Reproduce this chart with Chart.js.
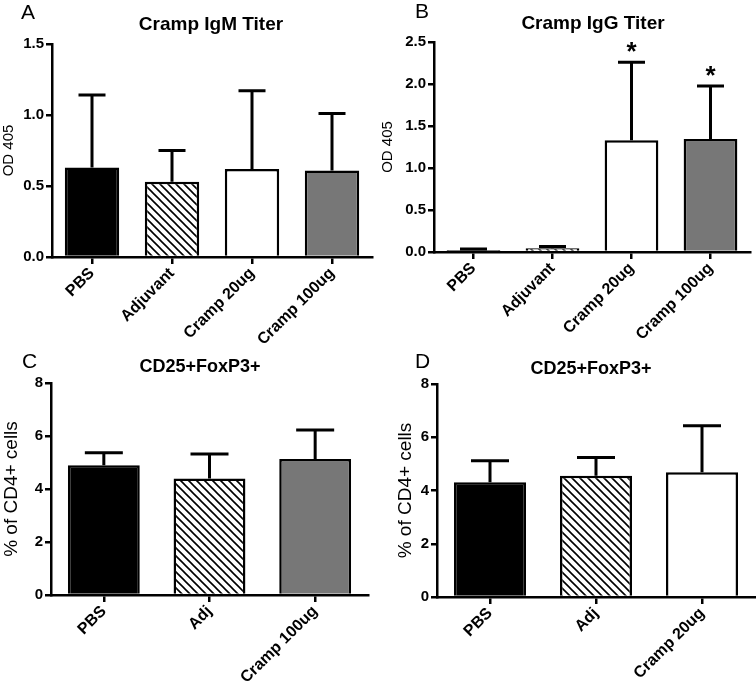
<!DOCTYPE html>
<html>
<head>
<meta charset="utf-8">
<script src="https://cdn.jsdelivr.net/npm/chart.js@4/dist/chart.umd.min.js"></script>
<style>
  html, body { margin: 0; padding: 0; background: #fff; }
  #wrap { position: relative; width: 756px; height: 683px; overflow: hidden; }
  canvas { position: absolute; }
</style>
</head>
<body>
<div id="wrap">
  <canvas id="panelA" width="378" height="352" style="left:0;top:0;width:378px;height:352px"></canvas>
  <canvas id="panelB" width="378" height="352" style="left:378px;top:0;width:378px;height:352px"></canvas>
  <canvas id="panelC" width="378" height="343" style="left:0;top:340px;width:378px;height:343px"></canvas>
  <canvas id="panelD" width="378" height="343" style="left:378px;top:340px;width:378px;height:343px"></canvas>
</div>
<script>
// data (mean + upper error)
const titerGroups = ['PBS', 'Adjuvant', 'Cramp 20ug', 'Cramp 100ug'];
const igmMean = [0.63, 0.53, 0.62, 0.61];
const igmErr = [0.51, 0.22, 0.55, 0.40];
const igmTicks = [0, 0.5, 1.0, 1.5];

const iggMean = [0.025, 0.045, 1.33, 1.345];
const iggErr = [0.01, 0.02, 0.93, 0.63];
const iggSig = ['', '', '*', '*'];
const iggTicks = [0, 0.5, 1.0, 1.5, 2.0, 2.5];

const tregCGroups = ['PBS', 'Adj', 'Cramp 100ug'];
const tregCMean = [4.9, 4.4, 5.13];
const tregCErr = [0.47, 0.92, 1.1];

const tregDGroups = ['PBS', 'Adj', 'Cramp 20ug'];
const tregDMean = [4.31, 4.55, 4.69];
const tregDErr = [0.81, 0.69, 1.74];
const tregTicks = [0, 2, 4, 6, 8];

const FONT = "'Liberation Sans', Arial, sans-serif";

// diagonal hatch for the adjuvant bars
function hatch() {
  const c = document.createElement('canvas');
  c.width = c.height = 8;
  const g = c.getContext('2d');
  g.fillStyle = '#fff';
  g.fillRect(0, 0, 8, 8);
  g.strokeStyle = '#000';
  g.lineWidth = 1.6;
  g.beginPath();
  g.moveTo(-1, -1); g.lineTo(9, 9);
  g.moveTo(-1, 7); g.lineTo(1, 9);
  g.moveTo(7, -1); g.lineTo(9, 1);
  g.stroke();
  return c.getContext('2d').createPattern(c, 'repeat');
}
const hatchFill = hatch();

function fillFor(name) {
  if (name === 'PBS') return '#000';
  if (name === 'Adjuvant' || name === 'Adj') return hatchFill;
  if (name === 'Cramp 20ug') return '#fff';
  return '#777';
}

const errorBars = {
  id: 'errorBars',
  afterDatasetsDraw(chart, args, opts) {
    const ctx = chart.ctx;
    const y = chart.scales.y;
    const meta = chart.getDatasetMeta(0);
    ctx.save();
    ctx.strokeStyle = '#000';
    ctx.lineWidth = 3;
    meta.data.forEach((bar, i) => {
      const top = y.getPixelForValue(opts.mean[i] + opts.err[i]);
      ctx.beginPath();
      ctx.moveTo(bar.x, bar.y);
      ctx.lineTo(bar.x, top);
      ctx.moveTo(bar.x - opts.cap, top);
      ctx.lineTo(bar.x + opts.cap, top);
      ctx.stroke();
      if (opts.sig && opts.sig[i]) {
        ctx.fillStyle = '#000';
        ctx.font = 'bold 26px ' + FONT;
        ctx.textAlign = 'center';
        ctx.textBaseline = 'alphabetic';
        ctx.fillText(opts.sig[i], bar.x, top - 2);
      }
    });
    ctx.restore();
  }
};

const panelText = {
  id: 'panelText',
  afterDraw(chart, args, opts) {
    const ctx = chart.ctx;
    ctx.save();
    ctx.fillStyle = '#000';
    ctx.textBaseline = 'alphabetic';
    ctx.textAlign = 'left';
    ctx.font = '21px ' + FONT;
    ctx.fillText(opts.letter, opts.lx, opts.ly);
    ctx.textAlign = 'center';
    ctx.font = 'bold ' + opts.tSize + 'px ' + FONT;
    ctx.fillText(opts.title, opts.tx, opts.ty);
    ctx.restore();
  }
};

function makePanel(id, p) {
  const cv = document.getElementById(id);
  const W = cv.width, H = cv.height;
  new Chart(cv, {
    type: 'bar',
    data: {
      labels: p.labels,
      datasets: [{
        data: p.mean,
        backgroundColor: p.labels.map(fillFor),
        borderColor: '#000',
        borderWidth: 2.5,
        barPercentage: 0.68,
        categoryPercentage: 1
      }]
    },
    options: {
      responsive: false,
      animation: false,
      layout: { padding: { top: p.plot[1], right: W - p.plot[2], left: 0, bottom: 0 } },
      plugins: {
        legend: { display: false },
        tooltip: { enabled: false },
        errorBars: { mean: p.mean, err: p.err, sig: p.sig, cap: p.cap },
        panelText: p.text
      },
      scales: {
        x: {
          grid: { offset: false, drawOnChartArea: false, color: '#000', lineWidth: 2.5, tickLength: 7 },
          border: { color: '#000', width: 2.5 },
          ticks: { color: '#000', font: { family: FONT, weight: 'bold', size: 16 }, minRotation: 45, maxRotation: 45, autoSkip: false, padding: 0 },
          afterFit: s => { s.height = H - p.plot[3]; }
        },
        y: {
          min: p.ticks[0],
          max: p.ticks[p.ticks.length - 1],
          afterBuildTicks: s => { s.ticks = p.ticks.map(v => ({ value: v })); },
          grid: { drawOnChartArea: false, color: '#000', lineWidth: 2.5, tickLength: 6 },
          border: { color: '#000', width: 2.5 },
          ticks: { color: '#000', font: { family: FONT, weight: 'bold', size: 15 }, padding: 2, callback: p.fmt },
          title: { display: true, text: p.yTitle, color: '#000', font: { family: FONT, size: p.yTitleSize }, padding: { top: p.yTitlePad, bottom: 0 } },
          afterFit: s => { s.width = p.plot[0]; }
        }
      }
    },
    plugins: [errorBars, panelText]
  });
}

makePanel('panelA', {
  labels: titerGroups, mean: igmMean, err: igmErr, ticks: igmTicks, cap: 13.5,
  fmt: v => v.toFixed(1), yTitle: 'OD 405', yTitleSize: 15, yTitlePad: 0,
  plot: [52, 44, 372, 257],
  text: { letter: 'A', lx: 21, ly: 19, title: 'Cramp IgM Titer', tSize: 19, tx: 211, ty: 30 }
});
makePanel('panelB', {
  labels: titerGroups, mean: iggMean, err: iggErr, sig: iggSig, ticks: iggTicks, cap: 13.5,
  fmt: v => v.toFixed(1), yTitle: 'OD 405', yTitleSize: 15, yTitlePad: 1,
  plot: [56, 42, 372, 252],
  text: { letter: 'B', lx: 37, ly: 18, title: 'Cramp IgG Titer', tSize: 19, tx: 215, ty: 29 }
});
makePanel('panelC', {
  labels: tregCGroups, mean: tregCMean, err: tregCErr, ticks: tregTicks, cap: 19,
  fmt: v => String(v), yTitle: '% of CD4+ cells', yTitleSize: 19, yTitlePad: 0,
  plot: [51, 43, 368, 255],
  text: { letter: 'C', lx: 22, ly: 28, title: 'CD25+FoxP3+', tSize: 18, tx: 200, ty: 32 }
});
makePanel('panelD', {
  labels: tregDGroups, mean: tregDMean, err: tregDErr, ticks: tregTicks, cap: 19,
  fmt: v => String(v), yTitle: '% of CD4+ cells', yTitleSize: 19, yTitlePad: 16,
  plot: [59, 44, 377, 257],
  text: { letter: 'D', lx: 37, ly: 28, title: 'CD25+FoxP3+', tSize: 18, tx: 213, ty: 34 }
});
</script>
</body>
</html>
